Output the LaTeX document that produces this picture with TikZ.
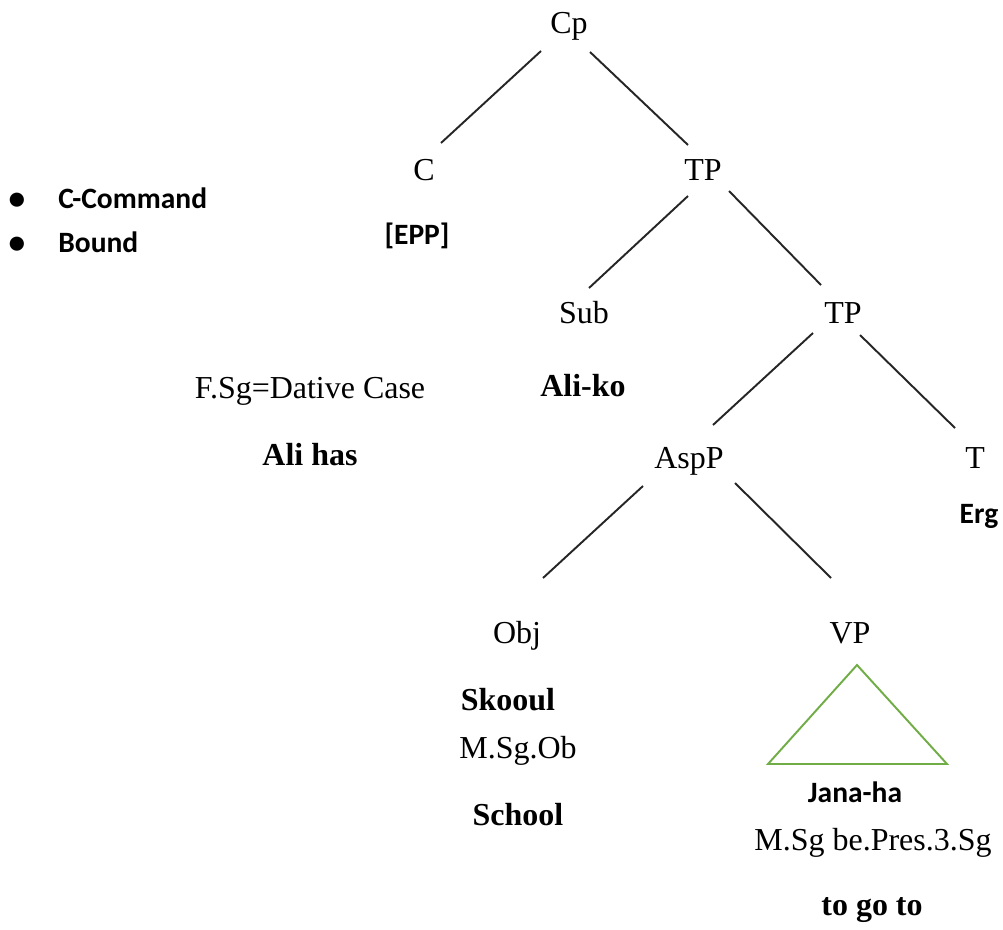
\documentclass[tikz,border=0pt]{standalone}
\usepackage{fontspec}
\setmainfont{Liberation Serif}
\newfontfamily\calibfont{Carlito}
\definecolor{roofgreen}{RGB}{112,173,71}

\begin{document}
\begin{tikzpicture}[x=0.02cm,y=-0.02cm,
    cat/.style={anchor=base,inner sep=0pt,font=\fontsize{18.2}{21}\selectfont},
    wrd/.style={cat,font=\fontsize{18.2}{21}\selectfont\bfseries},
    cal/.style={anchor=base,inner sep=0pt,font=\calibfont\fontsize{16.8}{20}\selectfont\bfseries},
    branch/.style={line width=1.1pt,black!85}]
    \useasboundingbox (0,0) rectangle (1003,929);
    % bullet list
    \node[cal,font=\calibfont\fontsize{19}{20}\selectfont\bfseries] (dota) at (17,210) {•};
    \node[cal,font=\calibfont\fontsize{19}{20}\selectfont\bfseries] (dotb) at (17,253) {•};
    \node[cal,anchor=base west] (ccom) at (58,209) {C-Command};
    \node[cal,anchor=base west] (bound) at (58,252) {Bound};
    % tree
    \node[cat] (Cp) at (569,34) {Cp};
    \node[cat] (C) at (424,180) {C};
    \node[cat] (TPa) at (703,180) {TP};
    \node[cal] (epp) at (417,244) {[EPP]};
    \node[cat] (Sub) at (584,323) {Sub};
    \node[cat] (TPb) at (843,323) {TP};
    \node[wrd] (aliko) at (583,396) {Ali-ko};
    \node[cat] (fsg) at (310,398) {F.Sg=Dative Case};
    \node[wrd] (alihas) at (310,465) {Ali has};
    \node[cat] (AspP) at (689,468) {AspP};
    \node[cat] (T) at (975,468) {T};
    \node[cal] (erg) at (979,523) {Erg};
    \node[cat] (Obj) at (517,643) {Obj};
    \node[cat] (VP) at (850,643) {VP};
    \node[wrd] (skooul) at (508,710) {Skooul};
    \node[cat] (msgob) at (518,758) {M.Sg.Ob};
    \node[wrd] (school) at (518,825) {School};
    \node[cal] (jana) at (855,802) {Jana-ha};
    \node[cat] (msgbe) at (873,850) {M.Sg be.Pres.3.Sg};
    \node[wrd] (togo) at (872,915) {to go to};
    % branches
    \draw[branch] ([shift={(-28,17)}]Cp.base) -- ([shift={(17,-37)}]C.base);
    \draw[branch] ([shift={(21,18)}]Cp.base) -- ([shift={(-15,-35)}]TPa.base);
    \draw[branch] ([shift={(-15,16)}]TPa.base) -- ([shift={(5,-35)}]Sub.base);
    \draw[branch] ([shift={(26,11)}]TPa.base) -- ([shift={(-22,-38)}]TPb.base);
    \draw[branch] ([shift={(-30,10)}]TPb.base) -- ([shift={(24,-43)}]AspP.base);
    \draw[branch] ([shift={(17,12)}]TPb.base) -- ([shift={(-20,-40)}]T.base);
    \draw[branch] ([shift={(-46,18)}]AspP.base) -- ([shift={(26,-65)}]Obj.base);
    \draw[branch] ([shift={(46,15)}]AspP.base) -- ([shift={(-19,-65)}]VP.base);
    % roof under VP
    \draw[line width=1.1pt,roofgreen] ([shift={(7,22)}]VP.base) -- ([shift={(-82,121)}]VP.base) -- ([shift={(97,121)}]VP.base) -- cycle;
\end{tikzpicture}
\end{document}
